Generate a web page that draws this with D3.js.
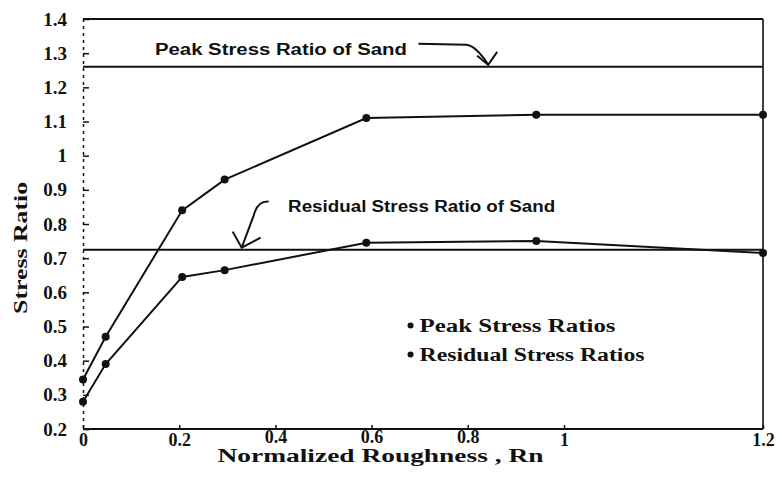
<!DOCTYPE html>
<html lang="en">
<head>
  <meta charset="UTF-8">
  <title>Stress Ratio vs Normalized Roughness</title>
  <script src="https://d3js.org/d3.v7.min.js"></script>
  <style>
    body { margin: 0; background: #fff; }
    svg { display: block; }
  </style>
</head>
<body>
<div id="chart"></div>
<script>
// data
const roughness = [0, 0.04, 0.175, 0.25, 0.5, 0.8, 1.2];
const peakRatios = [0.345, 0.47, 0.84, 0.93, 1.11, 1.12, 1.12];
const residualRatios = [0.28, 0.39, 0.645, 0.665, 0.745, 0.75, 0.715];
const sandPeak = 1.26;
const sandResidual = 0.725;

const xTicks = [0, 0.2, 0.4, 0.6, 0.8, 1, 1.2];
const yTicks = [0.2, 0.3, 0.4, 0.5, 0.6, 0.7, 0.8, 0.9, 1, 1.1, 1.2, 1.3, 1.4];
const legendNames = ["Peak Stress Ratios", "Residual Stress Ratios"];

const SERIF = '"Liberation Serif", "DejaVu Serif", serif';
const SANS = '"Liberation Sans", Arial, sans-serif';
const INK = "#111";

const W = 782, H = 492;
const margin = { top: 19, right: 19, bottom: 63, left: 83 };
const width = W - margin.left - margin.right,
      height = H - margin.top - margin.bottom;

const svg = d3.select("#chart").append("svg")
  .attr("width", W).attr("height", H);

const g = svg.append("g")
  .attr("transform", `translate(${margin.left},${margin.top})`);

const x = d3.scaleLinear().domain([0, 1.2]).range([0, width]);
const y = d3.scaleLinear().domain([0.2, 1.4]).range([height, 0]);
// the printed tick labels of the original sit on a tighter spacing than the plotted points
const xLabel = d3.scaleLinear().domain([0, 1, 1.2]).range([0, 481, width]);

// frame: top and right solid
g.append("line").attr("x1", 0).attr("x2", width).attr("y1", 0).attr("y2", 0)
  .attr("stroke", INK).attr("stroke-width", 2);
g.append("line").attr("x1", width).attr("x2", width).attr("y1", 0).attr("y2", height)
  .attr("stroke", INK).attr("stroke-width", 1.6);

// y axis, dotted like the scan
const yAxis = g.append("g")
  .call(d3.axisLeft(y).tickValues(yTicks).tickFormat(d3.format("")).tickSize(-6).tickPadding(16));
yAxis.select(".domain").attr("stroke", INK).attr("stroke-width", 1.5).attr("stroke-dasharray", "3,4");
yAxis.selectAll(".tick line").attr("stroke", INK).attr("stroke-width", 1.5);
yAxis.selectAll(".tick text")
  .style("font-family", SERIF).style("font-weight", "bold").style("font-size", "19px").style("fill", INK);

// x axis
const xAxis = g.append("g")
  .attr("transform", `translate(0,${height})`)
  .call(d3.axisBottom(xLabel).tickValues(xTicks).tickFormat(d3.format("")).tickSize(-4).tickPadding(4));
xAxis.select(".domain").remove();
g.append("line").attr("x1", 0).attr("x2", width).attr("y1", height).attr("y2", height)
  .attr("stroke", INK).attr("stroke-width", 2);
xAxis.selectAll(".tick line").attr("stroke", INK).attr("stroke-width", 1.5);
xAxis.selectAll(".tick text")
  .style("font-family", SERIF).style("font-weight", "bold").style("font-size", "18px").style("fill", INK)
  .attr("y", d => (d >= 0.4 && d <= 0.8) ? 1 : 4);

// axis titles
svg.append("text")
  .attr("transform", `translate(27,${margin.top + y(0.73)}) rotate(-90)`)
  .attr("text-anchor", "middle")
  .style("font-family", SERIF).style("font-weight", "bold").style("font-size", "19px").style("fill", INK)
  .attr("textLength", 132).attr("lengthAdjust", "spacingAndGlyphs")
  .text("Stress Ratio");

svg.append("text")
  .attr("x", margin.left + x(0.525)).attr("y", H - 30)
  .attr("text-anchor", "middle")
  .style("font-family", SERIF).style("font-weight", "bold").style("font-size", "19px").style("fill", INK)
  .attr("textLength", 326).attr("lengthAdjust", "spacingAndGlyphs")
  .text("Normalized Roughness , Rn");

// sand reference lines
[sandPeak, sandResidual].forEach(v => {
  g.append("line")
    .attr("x1", 0).attr("x2", width)
    .attr("y1", y(v)).attr("y2", y(v))
    .attr("stroke", INK).attr("stroke-width", 2);
});

// data series
const pts = arr => roughness.map((r, i) => [r, arr[i]]);
const line = d3.line().x(d => x(d[0])).y(d => y(d[1]));

[peakRatios, residualRatios].forEach(arr => {
  g.append("path").datum(pts(arr))
    .attr("d", line).attr("fill", "none")
    .attr("stroke", INK).attr("stroke-width", 2);
  g.selectAll(null).data(pts(arr)).enter().append("circle")
    .attr("cx", d => x(d[0])).attr("cy", d => y(d[1]))
    .attr("r", 4).attr("fill", INK);
});

// annotations
g.append("text")
  .attr("x", x(0.127)).attr("y", y(sandPeak) - 12)
  .style("font-family", SANS).style("font-weight", "bold").style("font-size", "16px").style("fill", INK)
  .attr("textLength", 252).attr("lengthAdjust", "spacingAndGlyphs")
  .text("Peak Stress Ratio of Sand");

const pTipX = x(0.715), pTipY = y(sandPeak) - 2;
g.append("path")
  .attr("d", `M${x(0.592)},${pTipY - 21} L${pTipX - 22},${pTipY - 20} Q${pTipX - 12},${pTipY - 19} ${pTipX},${pTipY}`)
  .attr("fill", "none").attr("stroke", INK).attr("stroke-width", 2);
g.append("path")
  .attr("d", `M${pTipX - 11},${pTipY - 9} L${pTipX},${pTipY} L${pTipX + 9},${pTipY - 13}`)
  .attr("fill", "none").attr("stroke", INK).attr("stroke-width", 2);

g.append("text")
  .attr("x", x(0.362)).attr("y", y(sandResidual) - 38)
  .style("font-family", SANS).style("font-weight", "bold").style("font-size", "16px").style("fill", INK)
  .attr("textLength", 267).attr("lengthAdjust", "spacingAndGlyphs")
  .text("Residual Stress Ratio of Sand");

const rTipX = x(0.28), rTipY = y(sandResidual) - 2;
g.append("path")
  .attr("d", `M${rTipX + 27},${rTipY - 46} Q${rTipX + 16},${rTipY - 47} ${rTipX + 12},${rTipY - 32} L${rTipX},${rTipY}`)
  .attr("fill", "none").attr("stroke", INK).attr("stroke-width", 2);
g.append("path")
  .attr("d", `M${rTipX - 9},${rTipY - 16} L${rTipX},${rTipY} L${rTipX + 19},${rTipY - 10}`)
  .attr("fill", "none").attr("stroke", INK).attr("stroke-width", 2);

// legend
const lg = g.append("g").attr("transform", `translate(${x(0.578)},${y(0.5)})`);
legendNames.forEach((name, i) => {
  lg.append("circle").attr("cx", 0).attr("cy", i * 29 - 1).attr("r", 3).attr("fill", INK);
  lg.append("text")
    .attr("x", 9).attr("y", i * 29 + 5)
    .style("font-family", SERIF).style("font-weight", "bold").style("font-size", "18px").style("fill", INK)
    .attr("textLength", i === 0 ? 196 : 225).attr("lengthAdjust", "spacingAndGlyphs")
    .text(name);
});
</script>
</body>
</html>
